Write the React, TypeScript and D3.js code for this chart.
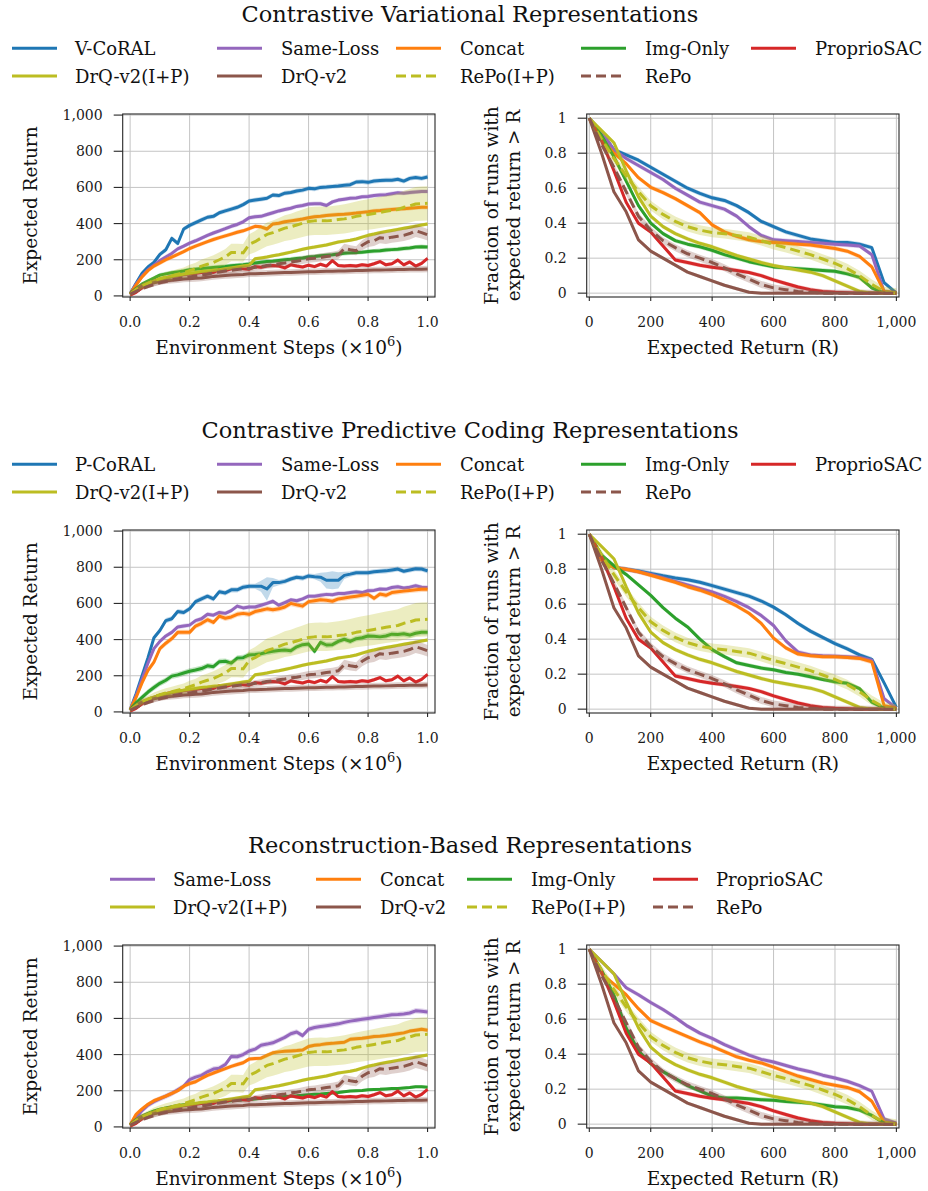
import React from 'react';
import * as d3 from 'd3';

const FONT = '"DejaVu Serif", "Liberation Serif", serif';
const W = 928;
const H = 1191;

const COLOR = {
  blue: '#1f77b4',
  orange: '#ff7f0e',
  green: '#2ca02c',
  red: '#d62728',
  purple: '#9467bd',
  brown: '#8c564b',
  olive: '#bcbd22',
};

// Environment steps (x 10^6) for the learning curves, every 0.02
const STEPS = d3.range(51).map((i) => +(i * 0.02).toFixed(2));
// Return thresholds R for the performance profiles, every 40
const THRESHOLDS = d3.range(26).map((i) => i * 40);

// ---- Learning curves: mean expected return ----
const DRQ = [
  10, 35, 55, 65, 73, 80, 84, 87, 90, 93,
  95, 97, 99, 103, 108, 110, 113, 115, 117, 119,
  122, 123, 124, 125, 127, 128, 129, 130, 131, 132,
  133, 134, 135, 136, 137, 138, 138, 139, 140, 141,
  142, 143, 143, 144, 145, 146, 146, 147, 148, 148,
  149,
];
const PROPRIO = [
  5, 20, 45, 65, 80, 92, 100, 108, 113, 118,
  122, 125, 130, 132, 130, 145, 140, 150, 155, 150,
  148, 162, 158, 165, 168, 165, 155, 172, 165, 160,
  170, 162, 175, 165, 195, 168, 165, 168, 165, 172,
  168, 178, 190, 172, 178, 198, 172, 188, 165, 180,
  208,
];
const DRQ_IP = [
  10, 35, 55, 70, 82, 92, 100, 107, 113, 120,
  125, 130, 135, 138, 142, 145, 150, 155, 160, 165,
  170, 205, 210, 215, 222, 228, 235, 242, 250, 258,
  265, 270, 276, 282, 290, 298, 303, 308, 315, 325,
  335, 342, 350, 356, 362, 368, 374, 380, 386, 392,
  398,
];
const REPO_IP = [
  10, 35, 55, 70, 85, 95, 105, 112, 120, 128,
  140, 150, 165, 175, 185, 200, 215, 240, 240, 238,
  285, 300, 320, 340, 350, 362, 375, 382, 392, 402,
  412, 415, 416, 415, 418, 422, 426, 432, 440, 445,
  450, 456, 462, 468, 473, 478, 490, 498, 508, 510,
  512,
];
const REPO = [
  10, 25, 40, 52, 62, 72, 80, 88, 95, 100,
  105, 110, 115, 120, 128, 132, 138, 142, 146, 150,
  152, 158, 162, 168, 172, 178, 182, 188, 192, 198,
  205, 208, 212, 218, 222, 228, 262, 255, 250, 280,
  300, 305, 322, 318, 325, 330, 335, 345, 360, 350,
  338,
];

const V_CORAL = [
  12, 70, 125, 160, 185, 230, 255, 318, 290, 370,
  390, 405, 420, 435, 440, 460, 470, 480, 490, 505,
  525, 530, 535, 540, 558, 555, 568, 572, 580, 585,
  595, 592, 600, 602, 605, 608, 612, 615, 630, 632,
  628, 635, 638, 640, 640, 645, 635, 650, 655, 650,
  658,
];
const SAME_V = [
  12, 65, 110, 145, 170, 195, 215, 235, 260, 275,
  292, 305, 320, 335, 348, 360, 372, 385, 395, 410,
  432, 438, 440, 450, 460, 470, 478, 485, 495, 500,
  508, 510, 510, 500, 520, 530, 535, 540, 542, 548,
  550, 555, 558, 560, 565, 570, 568, 572, 575, 578,
  578,
];
const CONCAT_V = [
  12, 60, 105, 140, 165, 182, 200, 215, 230, 245,
  262, 275, 288, 300, 312, 322, 332, 342, 352, 360,
  372, 385, 382, 370, 398, 402, 410, 415, 420, 425,
  432, 438, 440, 445, 448, 450, 452, 455, 458, 462,
  465, 470, 472, 475, 478, 480, 482, 485, 488, 490,
  490,
];
const IMG_V = [
  12, 40, 65, 82, 98, 115, 122, 128, 133, 138,
  145, 148, 151, 154, 157, 160, 163, 167, 170, 173,
  177, 182, 186, 190, 192, 196, 200, 203, 207, 210,
  215, 218, 222, 225, 228, 232, 236, 238, 240, 242,
  245, 248, 250, 254, 256, 258, 262, 265, 270, 272,
  270,
];

const P_CORAL = [
  12, 100, 200, 300, 410, 450, 505, 515, 555, 550,
  570, 610, 625, 640, 625, 665, 658, 675, 675, 690,
  695, 695, 695, 680, 715, 715, 722, 735, 745, 740,
  752, 748, 745, 728, 728, 728, 755, 762, 770, 770,
  770, 775, 778, 780, 785, 790, 778, 785, 792, 790,
  780,
];
const P_CORAL_ERR = [
  10, 14, 14, 14, 14, 14, 14, 14, 14, 14,
  14, 14, 14, 14, 14, 14, 14, 14, 14, 14,
  14, 14, 30, 65, 25, 14, 14, 14, 14, 14,
  14, 14, 25, 45, 50, 45, 20, 14, 14, 14,
  14, 14, 14, 14, 14, 14, 14, 14, 14, 14,
  14,
];
const SAME_P = [
  12, 90, 180, 270, 350, 390, 420, 440, 470, 475,
  480, 505, 515, 540, 535, 550, 545, 560, 585, 575,
  580, 580, 590, 600, 612, 590, 605, 620, 615, 625,
  640, 640, 645, 650, 648, 655, 655, 660, 665, 660,
  670, 672, 680, 678, 688, 692, 685, 690, 698, 690,
  688,
];
const CONCAT_P = [
  12, 80, 160, 230, 275, 350, 380, 405, 440, 440,
  440, 475, 490, 510, 495, 530, 518, 525, 540, 545,
  540, 555, 562, 570, 565, 570, 580, 600, 592, 585,
  610, 615, 620, 618, 612, 625, 630, 635, 640, 645,
  650, 628, 652, 645, 660, 665, 668, 672, 675, 678,
  678,
];
const IMG_P = [
  12, 50, 80, 110, 135, 158, 175, 198, 205, 215,
  225, 232, 240, 255, 250, 278, 280, 270, 298, 300,
  315, 318, 322, 330, 335, 340, 342, 338, 360, 372,
  375, 335, 385, 370, 372, 390, 402, 390, 405, 410,
  420, 418, 415, 420, 430, 428, 432, 425, 435, 440,
  440,
];

const SAME_R = [
  12, 50, 90, 120, 140, 155, 170, 185, 205, 225,
  262, 275, 285, 305, 320, 325, 345, 390, 388, 400,
  420, 430, 452, 458, 465, 480, 495, 515, 525, 505,
  540, 550, 555, 560, 565, 570, 578, 585, 590, 595,
  600, 605, 610, 615, 620, 622, 625, 630, 642, 640,
  636,
];
const CONCAT_R = [
  12, 70, 100, 125, 145, 158, 170, 185, 200, 225,
  240, 250, 268, 285, 298, 310, 322, 335, 345, 355,
  375, 378, 380, 395, 410, 415, 418, 420, 422, 425,
  445, 452, 455, 460, 462, 465, 468, 485, 488, 490,
  495, 500, 502, 505, 510, 515, 520, 530, 535, 540,
  535,
];
const IMG_R = [
  12, 40, 60, 75, 88, 98, 105, 112, 118, 122,
  125, 128, 132, 135, 138, 140, 142, 145, 148, 150,
  152, 155, 158, 160, 162, 165, 168, 170, 172, 175,
  178, 180, 182, 185, 188, 190, 195, 198, 200, 202,
  205, 207, 208, 210, 212, 212, 215, 218, 222, 222,
  220,
];

// ---- Performance profiles: fraction of runs with return > R ----
const PROF_PROPRIO = [1.0, 0.87, 0.7, 0.52, 0.4, 0.35, 0.27, 0.19, 0.175, 0.16, 0.148, 0.14, 0.13, 0.118, 0.1, 0.076, 0.055, 0.035, 0.02, 0.01, 0.005, 0.002, 0, 0, 0, 0];
const PROF_DRQ = [1.0, 0.8, 0.58, 0.465, 0.305, 0.24, 0.2, 0.16, 0.12, 0.095, 0.07, 0.045, 0.025, 0.005, 0, 0, 0, 0, 0, 0, 0, 0, 0, 0, 0, 0];
const PROF_DRQ_IP = [1.0, 0.93, 0.86, 0.7, 0.55, 0.44, 0.38, 0.34, 0.31, 0.285, 0.265, 0.24, 0.215, 0.195, 0.175, 0.158, 0.145, 0.132, 0.12, 0.1, 0.07, 0.04, 0.01, 0, 0, 0];
const PROF_REPO_IP = [1.0, 0.88, 0.77, 0.67, 0.58, 0.5, 0.45, 0.41, 0.38, 0.36, 0.347, 0.34, 0.33, 0.32, 0.3, 0.278, 0.26, 0.24, 0.22, 0.195, 0.17, 0.14, 0.1, 0.05, 0.01, 0];
const PROF_REPO = [1.0, 0.85, 0.72, 0.58, 0.44, 0.36, 0.3, 0.26, 0.225, 0.2, 0.175, 0.145, 0.11, 0.08, 0.05, 0.03, 0.02, 0.01, 0.005, 0, 0, 0, 0, 0, 0, 0];

const PROF_V_CORAL = [1.0, 0.92, 0.82, 0.79, 0.76, 0.72, 0.68, 0.64, 0.6, 0.57, 0.545, 0.53, 0.5, 0.46, 0.41, 0.38, 0.35, 0.33, 0.31, 0.3, 0.29, 0.29, 0.28, 0.26, 0.06, 0];
const PROF_SAME_V = [1.0, 0.92, 0.82, 0.77, 0.73, 0.69, 0.65, 0.6, 0.56, 0.52, 0.5, 0.48, 0.44, 0.38, 0.33, 0.305, 0.3, 0.295, 0.29, 0.285, 0.28, 0.275, 0.27, 0.22, 0.01, 0];
const PROF_CONCAT_V = [1.0, 0.88, 0.8, 0.74, 0.66, 0.605, 0.575, 0.54, 0.5, 0.46, 0.39, 0.35, 0.325, 0.305, 0.295, 0.29, 0.285, 0.28, 0.275, 0.265, 0.255, 0.24, 0.21, 0.15, 0.01, 0];
const PROF_IMG_V = [1.0, 0.9, 0.78, 0.64, 0.5, 0.4, 0.34, 0.3, 0.28, 0.265, 0.245, 0.22, 0.2, 0.18, 0.165, 0.15, 0.145, 0.14, 0.135, 0.13, 0.125, 0.11, 0.09, 0.03, 0, 0];

const PROF_P_CORAL = [1.0, 0.88, 0.81, 0.8, 0.79, 0.776, 0.762, 0.75, 0.74, 0.725, 0.706, 0.686, 0.666, 0.646, 0.618, 0.583, 0.54, 0.49, 0.446, 0.41, 0.375, 0.345, 0.31, 0.285, 0.15, 0.01];
const PROF_SAME_P = [1.0, 0.86, 0.81, 0.8, 0.785, 0.77, 0.75, 0.73, 0.71, 0.69, 0.67, 0.645, 0.615, 0.58, 0.535, 0.478, 0.39, 0.326, 0.31, 0.305, 0.303, 0.3, 0.295, 0.28, 0.06, 0.005];
const PROF_CONCAT_P = [1.0, 0.85, 0.81, 0.8, 0.785, 0.765, 0.745, 0.725, 0.7, 0.68, 0.655, 0.625, 0.59, 0.548, 0.49, 0.406, 0.35, 0.315, 0.305, 0.3, 0.3, 0.295, 0.29, 0.27, 0.02, 0.005];
const PROF_IMG_P = [1.0, 0.88, 0.82, 0.77, 0.71, 0.65, 0.58, 0.52, 0.47, 0.4, 0.34, 0.3, 0.265, 0.25, 0.235, 0.225, 0.21, 0.2, 0.185, 0.17, 0.156, 0.148, 0.118, 0.04, 0.005, 0];

const PROF_SAME_R = [1.0, 0.93, 0.86, 0.78, 0.74, 0.695, 0.655, 0.61, 0.56, 0.52, 0.49, 0.455, 0.425, 0.395, 0.37, 0.355, 0.335, 0.315, 0.3, 0.28, 0.264, 0.245, 0.22, 0.188, 0.03, 0.005];
const PROF_CONCAT_R = [1.0, 0.86, 0.8, 0.74, 0.66, 0.592, 0.56, 0.53, 0.5, 0.47, 0.445, 0.415, 0.385, 0.365, 0.35, 0.326, 0.3, 0.275, 0.255, 0.235, 0.222, 0.21, 0.185, 0.131, 0.01, 0];
const PROF_IMG_R = [1.0, 0.88, 0.74, 0.55, 0.42, 0.345, 0.3, 0.26, 0.22, 0.19, 0.16, 0.15, 0.15, 0.145, 0.14, 0.137, 0.13, 0.125, 0.12, 0.11, 0.1, 0.095, 0.08, 0.05, 0.005, 0];

// ---- Axis ticks ----
const STEP_TICKS = [0, 0.2, 0.4, 0.6, 0.8, 1.0];
const RETURN_TICKS = [0, 200, 400, 600, 800, 1000];
const FRACTION_TICKS = [0, 0.2, 0.4, 0.6, 0.8, 1];

type Curve = {
  name: string;
  color: string;
  dashed?: boolean;
  values: number[];
  err: number | number[];
  rel?: number;
};

type Method = {
  name: string;
  color: string;
  dashed?: boolean;
  learn: number[];
  learnErr: number | number[];
  learnRel?: number;
  prof: number[];
  profErr: number;
};

const baselineMethods = (): Method[] => [
  { name: 'ProprioSAC', color: COLOR.red, learn: PROPRIO, learnErr: 10, prof: PROF_PROPRIO, profErr: 0.012 },
  { name: 'DrQ-v2(I+P)', color: COLOR.olive, learn: DRQ_IP, learnErr: 10, prof: PROF_DRQ_IP, profErr: 0.012 },
  { name: 'DrQ-v2', color: COLOR.brown, learn: DRQ, learnErr: 18, prof: PROF_DRQ, profErr: 0.01 },
  { name: 'RePo(I+P)', color: COLOR.olive, dashed: true, learn: REPO_IP, learnErr: 8, learnRel: 0.17, prof: PROF_REPO_IP, profErr: 0.028 },
  { name: 'RePo', color: COLOR.brown, dashed: true, learn: REPO, learnErr: 5, learnRel: 0.08, prof: PROF_REPO, profErr: 0.02 },
];

type Section = {
  title: string;
  offset: number;
  columns: 4 | 5;
  methods: Method[];
};

const SECTIONS: Section[] = [
  {
    title: 'Contrastive Variational Representations',
    offset: 0,
    columns: 5,
    methods: [
      { name: 'V-CoRAL', color: COLOR.blue, learn: V_CORAL, learnErr: 13, prof: PROF_V_CORAL, profErr: 0.013 },
      { name: 'Same-Loss', color: COLOR.purple, learn: SAME_V, learnErr: 12, prof: PROF_SAME_V, profErr: 0.013 },
      { name: 'Concat', color: COLOR.orange, learn: CONCAT_V, learnErr: 12, prof: PROF_CONCAT_V, profErr: 0.013 },
      { name: 'Img-Only', color: COLOR.green, learn: IMG_V, learnErr: 12, prof: PROF_IMG_V, profErr: 0.012 },
      ...baselineMethods(),
    ],
  },
  {
    title: 'Contrastive Predictive Coding Representations',
    offset: 416,
    columns: 5,
    methods: [
      { name: 'P-CoRAL', color: COLOR.blue, learn: P_CORAL, learnErr: P_CORAL_ERR, prof: PROF_P_CORAL, profErr: 0.013 },
      { name: 'Same-Loss', color: COLOR.purple, learn: SAME_P, learnErr: 12, prof: PROF_SAME_P, profErr: 0.013 },
      { name: 'Concat', color: COLOR.orange, learn: CONCAT_P, learnErr: 15, prof: PROF_CONCAT_P, profErr: 0.013 },
      { name: 'Img-Only', color: COLOR.green, learn: IMG_P, learnErr: 16, prof: PROF_IMG_P, profErr: 0.012 },
      ...baselineMethods(),
    ],
  },
  {
    title: 'Reconstruction-Based Representations',
    offset: 831,
    columns: 4,
    methods: [
      { name: 'Same-Loss', color: COLOR.purple, learn: SAME_R, learnErr: 15, prof: PROF_SAME_R, profErr: 0.013 },
      { name: 'Concat', color: COLOR.orange, learn: CONCAT_R, learnErr: 12, prof: PROF_CONCAT_R, profErr: 0.013 },
      { name: 'Img-Only', color: COLOR.green, learn: IMG_R, learnErr: 8, prof: PROF_IMG_R, profErr: 0.012 },
      ...baselineMethods(),
    ],
  },
];

// Legend column anchors (handle start / label start) for 5- and 4-column legends
const LEGEND_LAYOUT = {
  5: { line: [12, 217, 396, 581, 751], text: [75, 281, 460, 645, 815] },
  4: { line: [110, 316, 467, 653], text: [173, 380, 531, 716] },
};

const PLOT_TOP = 114;
const PLOT_H = 183;
const LINE_W = 3;
const DASH = '10,5';

type PanelProps = {
  id: string;
  top: number;
  left: number;
  right: number;
  xDomain: [number, number];
  yDomain: [number, number];
  xs: number[];
  curves: Curve[];
  xTicks: number[];
  yTicks: number[];
  xFmt: (v: number) => string;
  yFmt: (v: number) => string;
  clamp?: [number, number];
};

function Panel(p: PanelProps) {
  const bottom = p.top + PLOT_H;
  const x = d3.scaleLinear().domain(p.xDomain).range([p.left, p.right]);
  const y = d3.scaleLinear().domain(p.yDomain).range([bottom, p.top]);
  const lo = p.clamp ? p.clamp[0] : -Infinity;
  const hi = p.clamp ? p.clamp[1] : Infinity;

  const line = d3
    .line<number>()
    .x((_, i) => x(p.xs[i]))
    .y((v) => y(v));

  return (
    <g>
      <defs>
        <clipPath id={p.id}>
          <rect x={p.left} y={p.top} width={p.right - p.left} height={PLOT_H} />
        </clipPath>
      </defs>
      {/* grid */}
      {p.xTicks.map((t) => (
        <line key={'gx' + t} x1={x(t)} x2={x(t)} y1={p.top} y2={bottom} stroke="#c4c4c4" strokeWidth={1} />
      ))}
      {p.yTicks.map((t) => (
        <line key={'gy' + t} x1={p.left} x2={p.right} y1={y(t)} y2={y(t)} stroke="#c4c4c4" strokeWidth={1} />
      ))}
      {/* bands and lines */}
      <g clipPath={`url(#${p.id})`}>
        {p.curves.map((c, ci) => {
          const e = (i: number) => (Array.isArray(c.err) ? c.err[i] : c.err) + (c.rel ?? 0) * c.values[i];
          const area = d3
            .area<number>()
            .x((_, i) => x(p.xs[i]))
            .y0((v, i) => y(Math.max(lo, v - e(i))))
            .y1((v, i) => y(Math.min(hi, v + e(i))));
          return (
            <g key={ci}>
              <path d={area(c.values) ?? ''} fill={c.color} fillOpacity={0.28} stroke="none" />
              <path
                d={line(c.values) ?? ''}
                fill="none"
                stroke={c.color}
                strokeWidth={LINE_W}
                strokeLinejoin="round"
                strokeDasharray={c.dashed ? DASH : undefined}
              />
            </g>
          );
        })}
      </g>
      {/* frame */}
      <rect x={p.left} y={p.top} width={p.right - p.left} height={PLOT_H} fill="none" stroke="#262626" strokeWidth={1.1} />
      {/* y ticks */}
      {p.yTicks.map((t) => (
        <g key={'ty' + t}>
          <line x1={p.left - 9} x2={p.left} y1={y(t)} y2={y(t)} stroke="#262626" strokeWidth={1.1} />
          <text x={p.left - 20} y={y(t) + 5} textAnchor="end" fontSize={14} fontFamily={FONT} fill="#1a1a1a">
            {p.yFmt(t)}
          </text>
        </g>
      ))}
      {/* x ticks */}
      {p.xTicks.map((t) => (
        <g key={'tx' + t}>
          <line x1={x(t)} x2={x(t)} y1={bottom} y2={bottom + 4} stroke="#262626" strokeWidth={1.1} />
          <text x={x(t)} y={bottom + 30} textAnchor="middle" fontSize={14} fontFamily={FONT} fill="#1a1a1a">
            {p.xFmt(t)}
          </text>
        </g>
      ))}
    </g>
  );
}

const fmtComma = d3.format(',');
const fmtStep = d3.format('.1f');
const fmtFrac = (v: number) => (v === 0 ? '0' : v === 1 ? '1' : d3.format('.1f')(v));

function SectionView({ s, idx }: { s: Section; idx: number }) {
  const top = PLOT_TOP + s.offset;
  const layout = LEGEND_LAYOUT[s.columns];
  const rows = [48.3 + s.offset, 76 + s.offset];

  const learnCurves: Curve[] = s.methods.map((m) => ({
    name: m.name,
    color: m.color,
    dashed: m.dashed,
    values: m.learn,
    err: m.learnErr,
    rel: m.learnRel,
  }));
  const profCurves: Curve[] = s.methods.map((m) => ({
    name: m.name,
    color: m.color,
    dashed: m.dashed,
    values: m.prof,
    err: m.profErr,
  }));

  const leftL = 122.7;
  const rightL = 435;
  const leftR = 586.7;
  const rightR = 899;
  const midY = top + PLOT_H / 2;

  return (
    <g>
      <text x={470} y={22 + s.offset} textAnchor="middle" fontSize={22.5} fontFamily={FONT} fill="#111">
        {s.title}
      </text>
      {/* legend */}
      {s.methods.map((m, i) => {
        const col = i % s.columns;
        const row = Math.floor(i / s.columns);
        const ly = rows[row];
        return (
          <g key={'lg' + i}>
            <line
              x1={layout.line[col]}
              x2={layout.line[col] + 45}
              y1={ly}
              y2={ly}
              stroke={m.color}
              strokeWidth={LINE_W}
              strokeDasharray={m.dashed ? DASH : undefined}
            />
            <text x={layout.text[col]} y={ly + 6.5} fontSize={18} fontFamily={FONT} fill="#111">
              {m.name}
            </text>
          </g>
        );
      })}

      <Panel
        id={'clipL' + idx}
        top={top}
        left={leftL}
        right={rightL}
        xDomain={[-0.025, 1.025]}
        yDomain={[-6, 1006]}
        xs={STEPS}
        curves={learnCurves}
        xTicks={STEP_TICKS}
        yTicks={RETURN_TICKS}
        xFmt={fmtStep}
        yFmt={fmtComma}
      />
      <text
        transform={`translate(37,${midY}) rotate(-90)`}
        textAnchor="middle"
        fontSize={18.5}
        fontFamily={FONT}
        fill="#111"
      >
        Expected Return
      </text>
      <text x={(leftL + rightL) / 2} y={top + PLOT_H + 57} textAnchor="middle" fontSize={18.5} fontFamily={FONT} fill="#111">
        Environment Steps (×10
        <tspan dy={-8} fontSize={13}>6</tspan>
        <tspan dy={8}>)</tspan>
      </text>

      <Panel
        id={'clipR' + idx}
        top={top}
        left={leftR}
        right={rightR}
        xDomain={[-8.5, 1008.5]}
        yDomain={[-0.022, 1.024]}
        xs={THRESHOLDS}
        curves={profCurves}
        xTicks={RETURN_TICKS}
        yTicks={FRACTION_TICKS}
        xFmt={fmtComma}
        yFmt={fmtFrac}
        clamp={[0, 1]}
      />
      <text transform={`translate(498,${midY}) rotate(-90)`} textAnchor="middle" fontSize={18.5} fontFamily={FONT} fill="#111">
        Fraction of runs with
      </text>
      <text transform={`translate(520,${midY}) rotate(-90)`} textAnchor="middle" fontSize={18.5} fontFamily={FONT} fill="#111">
        expected return &gt; R
      </text>
      <text x={(leftR + rightR) / 2} y={top + PLOT_H + 57} textAnchor="middle" fontSize={18.5} fontFamily={FONT} fill="#111">
        Expected Return (R)
      </text>
    </g>
  );
}

export default function App() {
  return (
    <svg
      width={W}
      height={H}
      viewBox={`0 0 ${W} ${H}`}
      style={{ position: 'absolute', left: 0, top: 0, background: '#fff' }}
    >
      <rect width={W} height={H} fill="#fff" />
      {SECTIONS.map((s, i) => (
        <SectionView key={i} s={s} idx={i} />
      ))}
    </svg>
  );
}
